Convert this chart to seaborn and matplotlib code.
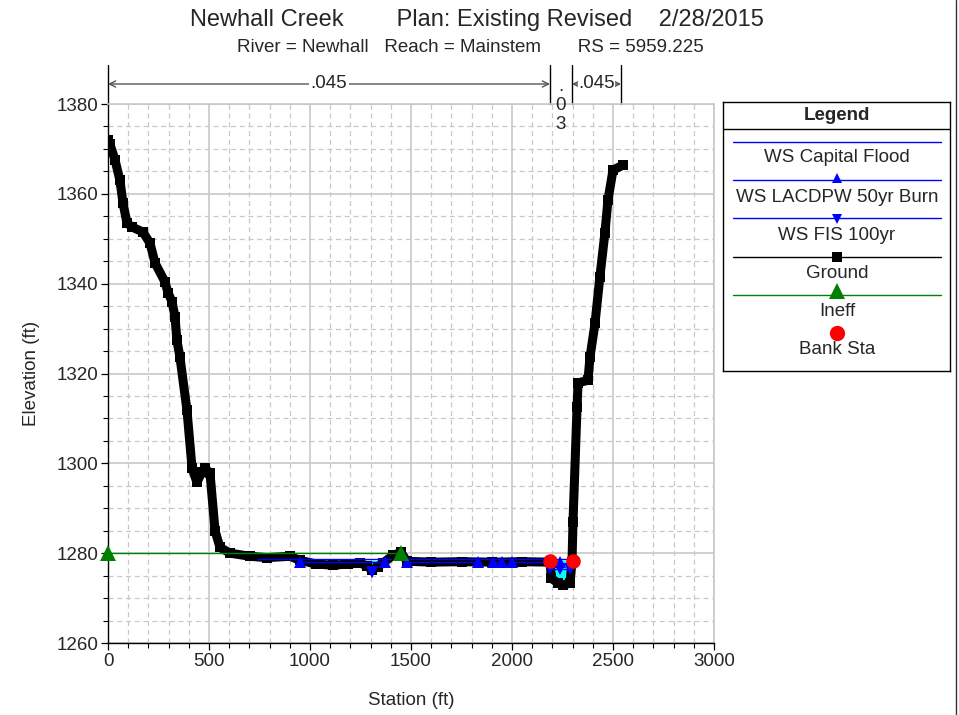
import numpy as np
import pandas as pd
import matplotlib
matplotlib.use("Agg")
import matplotlib.pyplot as plt
from matplotlib.lines import Line2D
import matplotlib.transforms as mtransforms
import seaborn as sns

# ---------------- data ----------------
ground_sta = [0, 10, 35, 59, 74, 94, 119, 173, 208, 233, 282, 297, 317, 332, 341, 356,
              391, 416, 440, 465, 480, 505, 530, 554, 604, 703, 787, 901, 950, 1030,
              1114, 1190, 1248, 1280, 1307, 1335, 1361, 1411, 1450, 1480, 1600, 1750,
              1900, 2050, 2188, 2195, 2228, 2252, 2287, 2297, 2302, 2322, 2327, 2376,
              2386, 2411, 2435, 2460, 2475, 2500, 2550]
ground_elev = [1372, 1371, 1367.5, 1363, 1358, 1353.5, 1352.6, 1351.5, 1349, 1344.6,
               1340.4, 1338, 1336, 1332.5, 1327.4, 1323.7, 1311.8, 1299, 1295.8, 1298,
               1299, 1297.8, 1285, 1281.3, 1280, 1279.3, 1279, 1279.3, 1278.4, 1277.6,
               1277.3, 1277.6, 1277.8, 1277.2, 1276.2, 1277.0, 1277.8, 1279.5, 1280.2,
               1278.2, 1278.0, 1278.1, 1278.0, 1278.1, 1278.0, 1274.4, 1273.3, 1272.9,
               1273.3, 1278, 1287, 1312.5, 1317.9, 1318.5, 1323.6, 1331.2, 1341.5,
               1351.3, 1358.6, 1365.3, 1366.4]

# water surfaces: segments (start, end) and elevation
ws_capital_segs = [(742, 1400), (1480, 2300)]
ws_capital_elev = 1278.6
ws_lacdpw_segs = [(950, 1371), (1480, 1832), (1906, 1950), (2000, 2237)]
ws_lacdpw_elev = 1278.1
ws_fis_segs = [(1307, 1307), (2188, 2287)]
ws_fis_elev = [1275.9, 1276.5]
ws_fis_mid = [2237]

ineff_sta = [0, 1450]
ineff_elev = [1280.0, 1280.0]

bank_sta = [2188, 2302]
bank_elev = [1278.3, 1278.3]

mann_sta = [0, 2188, 2297, 2540]
mann_n = [".045", ".03", ".045"]

title = "Newhall Creek        Plan: Existing Revised    2/28/2015"
subtitle = "River = Newhall   Reach = Mainstem       RS = 5959.225"

# ---------------- style ----------------
sns.set_theme(style="white")
plt.rcParams["font.family"] = ["Liberation Sans", "DejaVu Sans"]
FS = 13.5

W, H = 959, 715
fig = plt.figure(figsize=(W / 100, H / 100), dpi=100)
fig.patch.set_facecolor("white")

ax_l, ax_r, ax_t, ax_b = 108, 714, 104, 643
ax = fig.add_axes([ax_l / W, 1 - ax_b / H, (ax_r - ax_l) / W, (ax_b - ax_t) / H])
ax.set_facecolor("white")

# grid
ax.set_xlim(0, 3000)
ax.set_ylim(1260, 1380)
ax.set_xticks(np.arange(0, 3001, 500))
ax.set_xticks(np.arange(0, 3001, 100), minor=True)
ax.set_yticks(np.arange(1260, 1381, 20))
ax.set_yticks(np.arange(1260, 1381, 5), minor=True)
ax.grid(which="major", color="#c8c8c8", lw=1.2, ls="-", zorder=0)
ax.grid(which="minor", color="#c8c8c8", lw=0.9, ls=(0, (4, 3)), zorder=0)
ax.set_axisbelow(True)
ax.tick_params(which="major", direction="out", length=5, width=0.9, color="black",
               labelsize=FS, left=True, bottom=True, pad=2)
ax.tick_params(which="minor", direction="out", length=3.5, width=0.8, color="black",
               left=True, bottom=True)
for s in ["left", "bottom"]:
    ax.spines[s].set_color("black")
    ax.spines[s].set_linewidth(1.0)
for s in ["top", "right"]:
    ax.spines[s].set_color("#c8c8c8")
    ax.spines[s].set_linewidth(1.2)

# cyan water fill where ground below water surface
g_sta = np.array(ground_sta, float)
g_el = np.array(ground_elev, float)
fine = np.linspace(0, 2550, 3000)
gf = np.interp(fine, g_sta, g_el)
wsf = np.full_like(fine, np.nan)
for (a, b) in ws_capital_segs:
    m = (fine >= a) & (fine <= b)
    wsf[m] = ws_capital_elev - 0.3
ax.fill_between(fine, gf, wsf, where=(~np.isnan(wsf)) & (gf < wsf),
                color="#00ffff", lw=0, zorder=2, interpolate=True)

# ground
df_g = pd.DataFrame({"sta": ground_sta, "elev": ground_elev})
sns.lineplot(data=df_g, x="sta", y="elev", ax=ax, color="black", lw=6.5,
             marker="s", markersize=7.5, markeredgewidth=0, sort=False, zorder=4)

# water surfaces
def seg_df(segs, elevs):
    rows = []
    for i, (a, b) in enumerate(segs):
        e = elevs[i] if isinstance(elevs, (list, tuple)) else elevs
        rows.append((i, a, e))
        rows.append((i, b, e))
    return pd.DataFrame(rows, columns=["seg", "sta", "elev"])

sns.lineplot(data=seg_df(ws_capital_segs, ws_capital_elev), x="sta", y="elev",
             units="seg", estimator=None, sort=False, ax=ax, color="#0000ff", lw=1.0, zorder=5)
sns.lineplot(data=seg_df(ws_lacdpw_segs, ws_lacdpw_elev), x="sta", y="elev",
             units="seg", estimator=None, sort=False, ax=ax, color="#0000ff", lw=1.0,
             marker="^", markersize=8.5, markeredgewidth=0, zorder=6)
df_fis = seg_df(ws_fis_segs, ws_fis_elev)
df_fis = pd.concat([df_fis, pd.DataFrame({"seg": [1] * len(ws_fis_mid), "sta": ws_fis_mid,
                                          "elev": [ws_fis_elev[1]] * len(ws_fis_mid)})])
df_fis = df_fis.sort_values(["seg", "sta"])
sns.lineplot(data=df_fis, x="sta", y="elev", units="seg", estimator=None, sort=False, ax=ax,
             color="#0000ff", lw=1.0, marker="v", markersize=8.5, markeredgewidth=0, zorder=6)

# ineffective flow (drawn above ground)
df_ineff = pd.DataFrame({"sta": ineff_sta, "elev": ineff_elev})
sns.lineplot(data=df_ineff, x="sta", y="elev", ax=ax, color="#008000", lw=1.0,
             marker="^", markersize=12, markeredgewidth=0, sort=False, zorder=7)
for ln in ax.get_lines():
    if ln.get_color() == "#008000":
        ln.set_clip_on(False)

# bank stations
df_bank = pd.DataFrame({"sta": bank_sta, "elev": bank_elev})
sns.scatterplot(data=df_bank, x="sta", y="elev", ax=ax, color="#ff0000", s=110,
                linewidth=0, zorder=8)

ax.set_xlim(0, 3000)
ax.set_ylim(1260, 1380)
ax.set_xlabel("Station (ft)", fontsize=FS, labelpad=16)
ax.set_ylabel("Elevation (ft)", fontsize=FS, labelpad=12)
if ax.get_legend():
    ax.get_legend().remove()

# Manning's n annotations above the plot
trans = mtransforms.blended_transform_factory(ax.transData, ax.transAxes)
h_px = ax_b - ax_t
y_top = 1 + (104 - 65) / h_px
y_arr = 1 + (104 - 84) / h_px
for s in mann_sta:
    ax.plot([s, s], [1.0, y_top], transform=trans, color="black", lw=1.0, clip_on=False)
arrowprops = dict(arrowstyle="<->", color="#555555", lw=1.0, shrinkA=0, shrinkB=0,
                  mutation_scale=11)
ax.annotate("", xy=(mann_sta[0], y_arr), xytext=(mann_sta[1], y_arr), xycoords=trans,
            textcoords=trans, arrowprops=arrowprops, annotation_clip=False)
ax.text((mann_sta[0] + mann_sta[1]) / 2, y_arr, mann_n[0], transform=trans, ha="center",
        va="center", fontsize=FS, bbox=dict(fc="white", ec="none", pad=1.5), zorder=10)
ax.annotate("", xy=(mann_sta[2], y_arr), xytext=(mann_sta[3], y_arr), xycoords=trans,
            textcoords=trans, arrowprops=arrowprops, annotation_clip=False)
ax.text((mann_sta[2] + mann_sta[3]) / 2, y_arr, mann_n[2], transform=trans, ha="center",
        va="center", fontsize=FS, bbox=dict(fc="white", ec="none", pad=0.2), zorder=10)
ax.text((mann_sta[1] + mann_sta[2]) / 2, 1 + (104 - 78) / h_px, "\n".join(mann_n[1]),
        transform=trans, ha="center", va="top", fontsize=FS, linespacing=1.15, zorder=10)

# titles
fig.text(477 / W, 1 - 20 / H, title, ha="center", va="center", fontsize=17)
fig.text(470 / W, 1 - 48 / H, subtitle, ha="center", va="center", fontsize=FS)

# legend box drawn manually
lx0, lx1, ly0, ly1 = 723, 950, 102, 371
lax = fig.add_axes([lx0 / W, 1 - ly1 / H, (lx1 - lx0) / W, (ly1 - ly0) / H])
lax.set_xlim(lx0, lx1)
lax.set_ylim(ly1, ly0)
lax.set_xticks([]); lax.set_yticks([])
for s in lax.spines.values():
    s.set_color("black"); s.set_linewidth(1.0)
lax.set_facecolor("white")
lax.plot([lx0, lx1], [129, 129], color="black", lw=1.0)
lax.text((lx0 + lx1) / 2, 115, "Legend", ha="center", va="center", fontsize=FS,
         fontweight="bold")
cx = 837
entries = [
    ("WS Capital Flood", "#0000ff", None, 7, 142, 158),
    ("WS LACDPW 50yr Burn", "#0000ff", "^", 7, 180, 197),
    ("WS FIS 100yr", "#0000ff", "v", 7, 218, 235),
    ("Ground", "black", "s", 6.5, 257, 274),
    ("Ineff", "#008000", "^", 12, 295, 312),
]
for lab, col, mk, ms, yl, yt in entries:
    lax.plot([733, 941], [yl, yl], color=col, lw=1.0)
    if mk:
        off = -ms * 0.35 if mk == "^" else (ms * 0.2 if mk == "v" else 0)
        lax.plot([cx], [yl + off], marker=mk, color=col, markersize=ms,
                 markeredgewidth=0, ls="none")
    lax.text(cx, yt, lab, ha="center", va="center", fontsize=FS)
lax.plot([cx], [333], marker="o", color="#ff0000", markersize=11, markeredgewidth=0)
lax.text(cx, 350, "Bank Sta", ha="center", va="center", fontsize=FS)

# window border on right
fig.add_artist(Line2D([956 / W, 956 / W], [0, 1], color="#333333", lw=1.0))

fig.savefig("out.png", dpi=100)
